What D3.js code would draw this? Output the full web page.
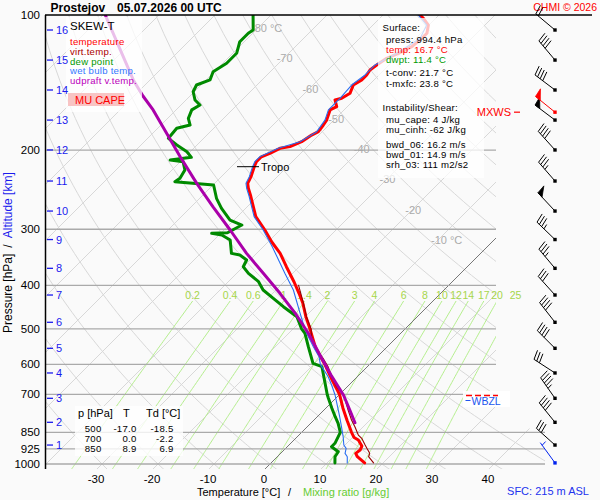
<!DOCTYPE html>
<html><head><meta charset="utf-8">
<script src="https://cdn.jsdelivr.net/npm/d3@7"></script>
<style>body{margin:0;background:#fafafa}svg{font-family:"Liberation Sans",Arial,sans-serif}</style>
</head><body>
<svg id="c" width="600" height="500"></svg>
<script>
// ---------------- DATA ----------------
const tempP = [994.4,963.3,946.8,930.9,912.0,884.5,873.2,850,800,750,700,650,600,550,500,469.8,437.9,416.7,393.2,363.6,339.5,319.9,301.2,281.3,267.4,253.0,243.2,237.1,229.1,217.7,212.2,206.9,203.3,198.1,196.4,191.5,185.1,181.9,175.8,171.4,162.7,160.0,154.6,153.3,149.4,143.2,139.5,136.0,132.6,129.2,124.9,121.7,117.6,112.7,109.8,105.3,101.7,100];
const tempT = [16.7,14.3,13.4,13.6,13.2,11.5,10.3,8.9,6.0,3.0,0.0,-3.9,-8.0,-12.7,-17.0,-19.9,-22.9,-25.3,-28.2,-32.3,-35.8,-39.4,-42.7,-46.7,-48.9,-51.3,-53.1,-54.1,-54.7,-55.9,-56.4,-56.4,-55.5,-54.6,-53.1,-51.9,-51.3,-50.7,-51.0,-51.3,-52.5,-51.9,-53.4,-52.5,-51.9,-52.8,-52.2,-52.2,-52.5,-52.2,-51.6,-50.4,-49.2,-48.9,-48.9,-50.1,-52.2,-53.4];

const dewP = [994.4,963.3,939.0,915.2,899.3,850,811.7,784.7,751.5,714,700,655.9,607.2,596.7,548,511.5,500,469.8,446.3,427.5,409.7,392.6,376.1,363.6,351.3,342.4,339.5,317.1,309.1,306.4,305.4,293.6,286.2,269.6,256.0,239.1,235.1,231.0,221.4,212.2,210.4,207.5,201.6,194.8,188.2,178.8,175.8,169.9,162.7,158.7,154.6,148.2,143.2,139.5,133.8,128.1,121.7,114.7,109.8,108.0,100];
const dewT = [11.4,10.3,10.0,7.9,7.9,6.9,4.9,3.2,1.1,-1.3,-2.2,-4.9,-8.1,-10.3,-14.1,-17.1,-18.5,-21.5,-25.7,-29.0,-32.3,-34.6,-37.9,-40.0,-40.6,-42.7,-44.5,-47.1,-49.5,-51.6,-48.9,-47.7,-50.7,-54.3,-57.0,-59.9,-67.4,-67.1,-67.7,-69.5,-72.1,-68.8,-70.6,-73.6,-76.3,-76.6,-74.8,-76.3,-77.2,-76.6,-78.4,-80.2,-80.8,-79.3,-80.2,-79.3,-79.3,-80.8,-80.8,-80.5,-83.2];

const wetP = [994.4,963.3,946.8,922.8,907.4,869.6,825.9,784.7,732.5,702.0,666.9,639.1,600,576.8,548,511.5,486,460,409.7,376.1,328.1,301.2,281.3,267.4,253.0,243.2,237.1,229.1,217.7,212.2,206.9,198.1,191.5,181.9,171.4,162.7,153.3,143.2,136.0,129.2,121.7,112.7,105.3,100];
const wetT = [13.6,12.5,11.5,10.8,9.8,8.2,6.1,4.0,1.1,-0.7,-3.1,-5.2,-8.8,-10.4,-13.2,-16.8,-19.2,-21.7,-26.9,-31.4,-38.4,-43.0,-47.0,-49.2,-51.6,-53.4,-54.4,-55.0,-56.2,-56.7,-56.7,-54.9,-52.2,-51.0,-51.6,-52.8,-52.8,-53.1,-52.5,-52.5,-50.7,-49.2,-50.4,-53.7];

const virtP = [994.4,963.3,946.8,922.8,907.4,876.8,861.9,825.9,798,758,720.3,702,672.8,639.1,607.2,581.6,557.4,520.5,500,469.8,437.9,400];
const virtT = [18.3,16.3,15.9,14.5,13.6,11.8,10.6,8.5,6.7,4.3,2.0,0.8,-1.9,-4.6,-7.0,-9.4,-12.0,-15.3,-16.8,-19.8,-22.8,-26.8];

const parcelP = [809.2,758,702,633.6,577.7,511.5,461.7,416.7,376.1,339.5,301.2,267.4,237.1,206.9,183.5,162.7,151.5,139.5,100];
const parcelT = [7.8,4.6,0.8,-5.0,-10.0,-16.5,-22.4,-28.7,-35.25,-41.8,-48.9,-56.1,-63.2,-70.9,-77.5,-84.1,-88.4,-93.0,-109.6];

// wind: surface + every km (1..16)
const windP   = [994.4,907.4,807.5,714,627,552.5,483.5,420.4,366.6,316.3,273.3,234.3,199.8,171.4,146.9,126,108];
const windDir = [324,312,321,325,303,315,322,318,320,314,317,319,318,307,307,320,310];
const windKt  = [5,30,40,45,30,40,40,30,35,35,50,35,40,50,40,40,20];
const kmLabels = [1,2,3,4,5,6,7,8,9,10,11,12,13,14,15,16];
const mxwsP = 164.6, mxwsDir = 309, mxwsKt = 50;

const pressureTicks = [100,200,300,400,500,600,700,850,925,1000];
const tempTicks = [-30,-20,-10,0,10,20,30,40];
const isoLabelTemps = [-80,-70,-60,-50,-40,-30,-20,-10];
const mixRatios = [0.2,0.4,0.6,1,1.4,2,3,4,6,8,10,12,14,17,20,25];
const tropoP = 217.7;

const tableRows = [["500","-17.0","-18.5"],["700","0.0","-2.2"],["850","8.9","6.9"]];
const legendItems = [['temperature','#ff0000'],['virt.temp.','#aa0000'],['dew point','#009900'],['wet bulb temp.','#3377ff'],['udpraft v.temp.','#bb00bb']];
const surfLines = [
 ["Surface:","#000",0],["press: 994.4 hPa","#000",1],["temp: 16.7 °C","#ff0000",1],["dwpt: 11.4 °C","#009900",1],
 ["t-conv: 21.7 °C","#000",1],["t-mxfc: 23.8 °C","#000",1],["Instability/Shear:","#000",0],
 ["mu_cape: 4 J/kg","#000",1],["mu_cinh: -62 J/kg","#000",1],["bwd_06: 16.2 m/s","#000",1],["bwd_01: 14.9 m/s","#000",1],["srh_03: 111 m2/s2","#000",1]];
const surfY = [31,43,53,63,76,87,111,123,133,148,158,168];

// ---------------- SCALES ----------------
const svg = d3.select('#c');
const yS = d3.scaleLog().domain([100,1000]).range([15,464]);
const tS = d3.scaleLinear().domain([-30,40]).range([96,488]);
const REFY = 470, PBOT = yS.invert(469);
const X = (T,p) => tS(T) + (REFY - yS(p));
const line = d3.line().x(d=>X(d[1],d[0])).y(d=>yS(d[0])).curve(d3.curveLinear);
const zip = (P,T) => P.map((p,i)=>[p,T[i]]);

svg.append('rect').attr('width',600).attr('height',500).attr('fill','#fafafa');
svg.append('defs').append('clipPath').attr('id','plot').append('polygon')
  .attr('points','45,15 496,15 496,395 545,444 545,469 45,469');

const grid = svg.append('g').attr('clip-path','url(#plot)');
// isotherms
d3.range(-130,60,10).forEach(T=>{
  grid.append('path').attr('d',line([[PBOT,T],[100,T]]))
    .attr('stroke', '#d8d8d8').attr('stroke-width',1).attr('fill','none');
});
// dry adiabats
const pLev = d3.range(100,1031,10);
d3.range(-30,240,10).forEach(th=>{
  const pts = pLev.map(p=>[p,(th+273.15)*Math.pow(p/1000,0.2857)-273.15]);
  grid.append('path').attr('d',line(pts)).attr('stroke','#d8d8d8').attr('stroke-width',1).attr('fill','none');
});
// mixing ratio lines
const pMixTop = yS.invert(301);
const tFromW = (w,p)=>{const e=w*p/(622+w);const l=Math.log(e/6.112);return 243.5*l/(17.67-l);};
const mixG = svg.append('g');
mixRatios.forEach(w=>{
  const pts = d3.range(pMixTop,PBOT,5).concat([PBOT]).map(p=>[p,tFromW(w,p)]);
  grid.append('path').attr('d',line(pts)).attr('stroke','#b4ee8c').attr('stroke-width',1).attr('fill','none');
  mixG.append('text').attr('x',X(tFromW(w,pMixTop),pMixTop)).attr('y',299).attr('text-anchor','middle')
    .attr('font-size',10.5).attr('fill','#a6d64a').text(w);
});
// 0 degC isotherm
grid.append('path').attr('d',line([[PBOT,0],[100,0]])).attr('stroke','#777').attr('stroke-width',1).attr('fill','none');
// isotherm labels
isoLabelTemps.forEach(T=>{
  const y = 28 + (T+80)*(212/70);
  const p = yS.invert(y);
  svg.append('text').attr('x',X(T,p)-7).attr('y',y+4).attr('font-size',11).attr('fill','#aaa')
    .text(T + ((T===-80||T===-10)?' °C':''));
});
// horizontal pressure lines
pressureTicks.slice(1).forEach(p=>{
  svg.append('line').attr('x1',45).attr('x2',p>=850?545:496).attr('y1',yS(p)).attr('y2',yS(p))
    .attr('stroke','#aaa').attr('stroke-width',1.3);
});

// ---------------- PROFILES ----------------
const prof = svg.append('g').attr('clip-path','url(#plot)').attr('fill','none')
  .attr('stroke-linejoin','round').attr('stroke-linecap','round');
prof.append('path').attr('d',line(zip(dewP,dewT))).attr('stroke','#008a00').attr('stroke-width',3);
prof.append('path').attr('d',line(zip(tempP,tempT))).attr('stroke','#ff0000').attr('stroke-width',3);
prof.append('path').attr('d',line(zip(wetP,wetT))).attr('stroke','#2a6ef0').attr('stroke-width',1.1);
prof.append('path').attr('d',line(zip(virtP,virtT))).attr('stroke','#990000').attr('stroke-width',1.1);
prof.append('path').attr('d',line(zip(parcelP,parcelT))).attr('stroke','#aa00aa').attr('stroke-width',3);

// tropopause
const ty = yS(tropoP);
svg.append('line').attr('x1',237).attr('x2',259).attr('y1',ty).attr('y2',ty).attr('stroke','#000').attr('stroke-width',1);
svg.append('text').attr('x',261).attr('y',ty+4.5).attr('font-size',11).text('Tropo');

// ---------------- BOXES ----------------
const small = {fs:9.6, ls:0.25};
// legend
svg.append('rect').attr('x',66).attr('y',17).attr('width',76).attr('height',95).attr('fill','#fff').attr('opacity',0.75);
svg.append('text').attr('x',70).attr('y',30).attr('font-size',11.5).text('SKEW-T');
legendItems.forEach((d,i)=>svg.append('text').attr('x',70).attr('y',45+i*9.8).attr('font-size',small.fs)
  .attr('letter-spacing',small.ls).attr('fill',d[1]).text(d[0]));
svg.append('rect').attr('x',68).attr('y',93).attr('width',56).attr('height',13).attr('fill','#f8c4c4');
svg.append('text').attr('x',75).attr('y',104).attr('font-size',11).attr('fill','#ff0000').text('MU CAPE');

// surface box
svg.append('rect').attr('x',378).attr('y',18).attr('width',106).attr('height',160).attr('fill','#fff').attr('opacity',0.75);
surfLines.forEach((d,i)=>svg.append('text').attr('x',d[2]?386:382.5).attr('y',surfY[i]).attr('font-size',small.fs)
  .attr('letter-spacing',small.ls).attr('fill',d[1]).text(d[0]));

// table box
svg.append('rect').attr('x',75).attr('y',406).attr('width',108).attr('height',50).attr('fill','#fff').attr('opacity',0.8);
svg.append('text').attr('x',78).attr('y',417).attr('font-size',11).text('p [hPa]');
svg.append('text').attr('x',123).attr('y',417).attr('font-size',11).text('T');
svg.append('text').attr('x',146).attr('y',417).attr('font-size',11).text('Td [°C]');
tableRows.forEach((r,i)=>{
  [101.5,136.5,173.5].forEach((x,j)=>svg.append('text').attr('x',x).attr('y',431.5+i*10).attr('text-anchor','end')
    .attr('font-size',small.fs).attr('letter-spacing',small.ls).text(r[j]));
});

// WBZL box
svg.append('rect').attr('x',463).attr('y',391).attr('width',47).attr('height',16).attr('fill','#fff').attr('opacity',0.9);
svg.append('line').attr('x1',466).attr('x2',498).attr('y1',395.5).attr('y2',395.5).attr('stroke','#ff0000').attr('stroke-width',1.5).attr('stroke-dasharray','6,3');
svg.append('line').attr('x1',465.5).attr('x2',470.5).attr('y1',400.5).attr('y2',400.5).attr('stroke','#2255ee').attr('stroke-width',1);
svg.append('text').attr('x',471.5).attr('y',404.5).attr('font-size',10.5).attr('fill','#2255ee').text('WBZL');

// MXWS label
const my = yS(mxwsP);
svg.append('text').attr('x',511).attr('y',my+4).attr('text-anchor','end').attr('font-size',11).attr('fill','#ff0000').text('MXWS');
svg.append('line').attr('x1',514).attr('x2',520).attr('y1',my).attr('y2',my).attr('stroke','#ff0000').attr('stroke-width',1.2);

// ---------------- AXES ----------------
svg.append('line').attr('x1',45.5).attr('x2',45.5).attr('y1',15).attr('y2',469).attr('stroke','#000').attr('stroke-width',1.5);
svg.append('line').attr('x1',45).attr('x2',592).attr('y1',15).attr('y2',15).attr('stroke','#000').attr('stroke-width',1.5);
pressureTicks.forEach(p=>svg.append('text').attr('x',40).attr('y',yS(p)+4).attr('text-anchor','end').attr('font-size',11.5).text(p));
tempTicks.forEach(T=>svg.append('text').attr('x',tS(T)).attr('y',483).attr('text-anchor','middle').attr('font-size',11.5).text(T));
kmLabels.forEach((k,i)=>{
  const y = yS(windP[i+1]);
  svg.append('line').attr('x1',47).attr('x2',53).attr('y1',y).attr('y2',y).attr('stroke','#1a1aee').attr('stroke-width',1.3);
  svg.append('text').attr('x',56).attr('y',y+4).attr('font-size',11).attr('fill','#1a1aee').text(k);
});
// titles
const title = svg.append('text').attr('y',11.5).attr('font-size',12).attr('font-weight','bold');
title.append('tspan').attr('x',50.5).text('Prostejov');
title.append('tspan').attr('x',117).text('05.07.2026 00 UTC');
svg.append('text').attr('x',597).attr('y',10.5).attr('text-anchor','end').attr('font-size',10.5).attr('fill','#ff0000').text('CHMI © 2026');
const xt = svg.append('text').attr('y',496).attr('font-size',11);
xt.append('tspan').attr('x',197).text('Temperature [°C]');
xt.append('tspan').attr('x',288).text('/');
xt.append('tspan').attr('x',303).attr('fill','#66cc33').text('Mixing ratio [g/kg]');
svg.append('text').attr('x',589).attr('y',495).attr('text-anchor','end').attr('font-size',11).attr('fill','#2233ee').text('SFC: 215 m ASL');
const yt = svg.append('text').attr('transform','translate(12,333) rotate(-90)').attr('font-size',12);
yt.append('tspan').text('Pressure [hPa]');
yt.append('tspan').attr('dx',6).text('/');
yt.append('tspan').attr('dx',6).attr('fill','#1a1aee').text('Altitude [km]');

// ---------------- WIND BARBS ----------------
function barb(p, dir, kt, color){
  const x0 = 555, y0 = yS(p), len = 25;
  const a = dir*Math.PI/180, ux = Math.sin(a), uy = -Math.cos(a);
  const px = -uy, py = ux;
  const g = svg.append('g').attr('stroke',color).attr('fill',color);
  g.append('line').attr('x1',x0).attr('y1',y0).attr('x2',x0+ux*len).attr('y2',y0+uy*len).attr('stroke-width',1);
  g.append('rect').attr('x',x0-1.7).attr('y',y0-1.7).attr('width',3.4).attr('height',3.4).attr('stroke','none');
  let s = Math.round(kt/5)*5, pos = len;
  while (s >= 50){
    const bx=x0+ux*pos, by=y0+uy*pos, cx=x0+ux*(pos-6), cy=y0+uy*(pos-6);
    g.append('path').attr('d',`M${bx},${by}L${bx+px*9+ux*1},${by+py*9+uy*1}L${cx},${cy}Z`).attr('stroke-width',0.8);
    pos -= 8; s -= 50;
  }
  while (s >= 10){
    const bx=x0+ux*pos, by=y0+uy*pos;
    g.append('line').attr('x1',bx).attr('y1',by).attr('x2',bx+px*9.5+ux*2).attr('y2',by+py*9.5+uy*2).attr('stroke-width',1);
    pos -= 3.2; s -= 10;
  }
  if (s >= 5){
    if (pos === len) pos -= 3.2;
    const bx=x0+ux*pos, by=y0+uy*pos;
    g.append('line').attr('x1',bx).attr('y1',by).attr('x2',bx+px*5+ux*1).attr('y2',by+py*5+uy*1).attr('stroke-width',1);
  }
}
windP.forEach((p,i)=>barb(p, windDir[i], windKt[i], i===0?'#0022ee':'#000'));
barb(mxwsP, mxwsDir, mxwsKt, '#ff0000');
</script>
</body></html>
